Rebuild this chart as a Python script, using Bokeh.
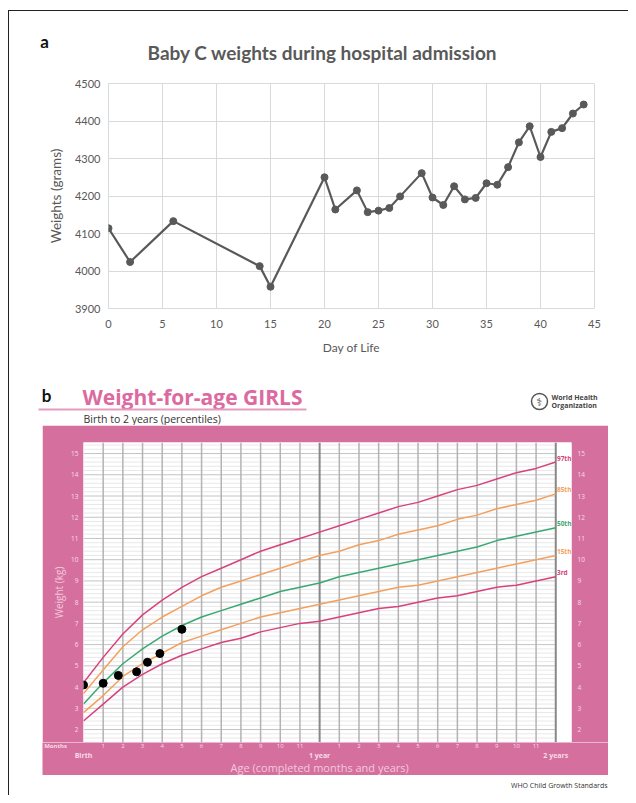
from bokeh.plotting import figure
from bokeh.models import Range1d, FixedTicker, LinearAxis, Spacer, SingleIntervalTicker
from bokeh.layouts import column, row
from bokeh.core.properties import value
from bokeh.embed import file_html
from bokeh.resources import INLINE

# ---------------- data: panel a ----------------
days = [0, 2, 6, 14, 15, 20, 21, 23, 24, 25, 26, 27, 29, 30, 31, 32, 33, 34,
        35, 36, 37, 38, 39, 40, 41, 42, 43, 44]
weights_g = [4114, 4024, 4133, 4013, 3958, 4250, 4164, 4215, 4157, 4161, 4168,
             4199, 4261, 4196, 4176, 4226, 4191, 4195, 4234, 4230, 4277, 4343,
             4386, 4304, 4371, 4381, 4420, 4444]

# ---------------- data: panel b (WHO weight-for-age girls) ----------------
months = list(range(25))
p97 = [4.2, 5.4, 6.5, 7.4, 8.1, 8.7, 9.2, 9.6, 10.0, 10.4, 10.7, 11.0, 11.3,
       11.6, 11.9, 12.2, 12.5, 12.7, 13.0, 13.3, 13.5, 13.8, 14.1, 14.3, 14.6]
p85 = [3.7, 4.8, 5.9, 6.7, 7.3, 7.8, 8.3, 8.7, 9.0, 9.3, 9.6, 9.9, 10.2,
       10.4, 10.7, 10.9, 11.2, 11.4, 11.6, 11.9, 12.1, 12.4, 12.6, 12.8, 13.1]
p50 = [3.2, 4.2, 5.1, 5.8, 6.4, 6.9, 7.3, 7.6, 7.9, 8.2, 8.5, 8.7, 8.9,
       9.2, 9.4, 9.6, 9.8, 10.0, 10.2, 10.4, 10.6, 10.9, 11.1, 11.3, 11.5]
p15 = [2.8, 3.6, 4.5, 5.1, 5.6, 6.1, 6.4, 6.7, 7.0, 7.3, 7.5, 7.7, 7.9,
       8.1, 8.3, 8.5, 8.7, 8.8, 9.0, 9.2, 9.4, 9.6, 9.8, 10.0, 10.2]
p3 = [2.4, 3.2, 4.0, 4.6, 5.1, 5.5, 5.8, 6.1, 6.3, 6.6, 6.8, 7.0, 7.1,
      7.3, 7.5, 7.7, 7.8, 8.0, 8.2, 8.3, 8.5, 8.7, 8.8, 9.0, 9.2]
percentile_names = ["97th", "85th", "50th", "15th", "3rd"]
baby_age_months = [0.0, 1.0, 1.77, 2.7, 3.25, 3.88, 5.0]
baby_weight_kg = [4.1, 4.18, 4.55, 4.72, 5.17, 5.58, 6.72]
weight_ticks = list(range(2, 16))
month_ticks = [1, 2, 3, 4, 5, 6, 7, 8, 9, 10, 11, 13, 14, 15, 16, 17, 18, 19, 20, 21, 22, 23]
year_ticks = [0, 12, 24]
year_labels = ["Birth", "1 year", "2 years"]

GRAY = "#595959"
PINK = "#d5709e"
PINK_TXT = "#dc6aa0"
LIGHT = "#f8dbe8"
RED_C = "#d8417c"
ORA_C = "#f3a05e"
GRN_C = "#3aa872"
pct_colors = [RED_C, ORA_C, GRN_C, ORA_C, RED_C]


def blank(w, h, x_range, y0, y1, fill="white"):
    f = figure(width=w, height=h, x_range=x_range, y_range=Range1d(y1, y0),
               output_backend="svg", toolbar_location=None,
               x_axis_type=None, y_axis_type=None, min_border=0,
               min_border_left=0, min_border_right=0, min_border_top=0, min_border_bottom=0)
    f.outline_line_color = None
    f.grid.visible = False
    f.background_fill_color = fill
    f.border_fill_color = fill
    return f


# ---------------- header a (page coordinates) ----------------
ha = blank(619, 64, Range1d(9, 628), 11, 75)
ha.text(x=[44], y=[41], text=["a"], text_font=value("Lato"), text_font_style="bold",
        text_font_size="17px", text_color="#111111", text_align="center", text_baseline="middle")
ha.text(x=[322], y=[52], text=["Baby C weights during hospital admission"], text_font=value("Lato"),
        text_font_style="bold", text_font_size="19px", text_color=GRAY,
        text_align="center", text_baseline="middle")

# ---------------- panel a ----------------
pa = figure(width=619, height=305, x_range=Range1d(0, 45), y_range=Range1d(3900, 4500),
            output_backend="svg", toolbar_location=None,
            min_border_left=99, min_border_right=34, min_border_top=8, min_border_bottom=72)
pa.outline_line_color = "#d9d9d9"
pa.xaxis.ticker = SingleIntervalTicker(interval=5)
pa.yaxis.ticker = SingleIntervalTicker(interval=100)
for ax in (pa.xaxis, pa.yaxis):
    ax.axis_line_color = None
    ax.major_tick_line_color = None
    ax.minor_tick_line_color = None
    ax.major_tick_out = 0
    ax.minor_tick_out = 0
    ax.major_label_text_color = GRAY
    ax.major_label_text_font = "Lato"
    ax.major_label_text_font_size = "11px"
    ax.axis_label_text_color = GRAY
    ax.axis_label_text_font = "Lato"
    ax.axis_label_text_font_size = "12px"
    ax.axis_label_text_font_style = "normal"
pa.xaxis.axis_label = "Day of Life"
pa.yaxis.axis_label = "Weights (grams)"
pa.yaxis.axis_label_text_font_size = "13.5px"
pa.xaxis.major_label_standoff = 11
pa.xaxis.axis_label_standoff = 9
pa.yaxis.major_label_standoff = 8
pa.yaxis.axis_label_standoff = 8
pa.grid.grid_line_color = "#d9d9d9"
pa.grid.grid_line_width = 1
pa.line(days, weights_g, line_color=GRAY, line_width=2.2)
pa.scatter(days, weights_g, size=7, fill_color=GRAY, line_color=GRAY)

# ---------------- header b (page coordinates) ----------------
hb = blank(619, 45, Range1d(9, 628), 380, 425)
hb.text(x=[46], y=[395], text=["b"], text_font=value("Lato"), text_font_style="bold",
        text_font_size="17px", text_color="#111111", text_align="center", text_baseline="middle")
hb.text(x=[82], y=[396], text=["Weight-for-age GIRLS"], text_font=value("Open Sans"),
        text_font_style="bold", text_font_size="21px", text_color=PINK_TXT,
        text_align="left", text_baseline="middle")
hb.segment(x0=[38], y0=[409], x1=[306], y1=[409], line_color="#e59cbf", line_width=2)
hb.text(x=[83], y=[418], text=["Birth to 2 years (percentiles)"], text_font=value("Open Sans"),
        text_font_size="10.5px", text_color="#333333", text_align="left", text_baseline="middle")
hb.circle(x=[539], y=[401], radius=8, fill_color=None, line_color="#555555", line_width=1.5)
hb.text(x=[539], y=[401.5], text=["\u2695"], text_font=value("DejaVu Sans"), text_font_size="11px",
        text_color="#444444", text_align="center", text_baseline="middle")
hb.text(x=[551, 551], y=[397, 405], text=["World Health", "Organization"], text_font=value("Open Sans"),
        text_font_style="bold", text_font_size="7px", text_color="#444444",
        text_align="left", text_baseline="middle")

# ---------------- panel b : chart ----------------
B_W, B_LEFT, B_RIGHT = 566, 41, 37
X_END = 24.8
pb = figure(width=B_W, height=317, x_range=Range1d(0, X_END), y_range=Range1d(1.39, 15.52),
            output_backend="svg", toolbar_location=None, x_axis_type=None,
            min_border_left=B_LEFT, min_border_right=B_RIGHT, min_border_top=17, min_border_bottom=0)
pb.border_fill_color = PINK
pb.background_fill_color = "white"
pb.outline_line_color = None
pb.grid.visible = False

minor_kg = [round(1.4 + 0.2 * i, 1) for i in range(71)]
minor_kg = [v for v in minor_kg if abs(v - round(v)) > 1e-6]
pb.segment(x0=[0] * len(minor_kg), y0=minor_kg, x1=[24] * len(minor_kg), y1=minor_kg,
           line_color="#e2e2e2", line_width=0.8)
pb.segment(x0=[0] * len(weight_ticks), y0=weight_ticks, x1=[24] * len(weight_ticks), y1=weight_ticks,
           line_color="#c4c4c4", line_width=1)
vm = [m for m in range(1, 24) if m != 12]
pb.segment(x0=vm, y0=[1.39] * len(vm), x1=vm, y1=[15.52] * len(vm), line_color="#b3b3b3", line_width=1.5)
pb.segment(x0=[12, 24], y0=[1.39, 1.39], x1=[12, 24], y1=[15.52, 15.52], line_color="#888888", line_width=2)

for series, col in zip([p97, p85, p50, p15, p3], pct_colors):
    pb.line(months, series, line_color=col, line_width=1.5)
ends = [s[-1] for s in (p97, p85, p50, p15, p3)]
pb.text(x=[24.06] * 5, y=ends, text=percentile_names, text_color=pct_colors,
        text_font=value("Open Sans"), text_font_style="bold", text_font_size="6.5px",
        text_align="left", text_baseline="middle", y_offset=-4)
pb.scatter(baby_age_months, baby_weight_kg, size=8, fill_color="black", line_color="black")


def style_axis(ax, size="6.5px", bold=False):
    ax.axis_line_color = None
    ax.major_tick_line_color = None
    ax.minor_tick_line_color = None
    ax.major_tick_out = 0
    ax.minor_tick_out = 0
    ax.major_label_text_color = LIGHT
    ax.major_label_text_font = "Open Sans"
    ax.major_label_text_font_size = size
    ax.major_label_text_font_style = "bold" if bold else "normal"
    ax.axis_label_text_color = "#f3c8dc"
    ax.axis_label_text_font = "Open Sans"
    ax.axis_label_text_font_style = "normal"


ly = pb.yaxis[0]
ly.ticker = FixedTicker(ticks=weight_ticks)
style_axis(ly)
ly.major_label_standoff = 5
ly.axis_label = "Weight (kg)"
ly.axis_label_text_font_size = "10px"
ly.axis_label_standoff = 2

ry = LinearAxis(ticker=FixedTicker(ticks=weight_ticks))
style_axis(ry)
ry.major_label_standoff = 6
pb.add_layout(ry, "right")

# ---------------- panel b : age scale strip (same month scale as the chart) ----------------
px_per_month = (B_W - B_LEFT - B_RIGHT) / X_END
bp = blank(B_W, 33, Range1d(-B_LEFT / px_per_month, X_END + B_RIGHT / px_per_month), 742, 775, fill=PINK)
bp.text(x=month_ticks, y=[745.5] * len(month_ticks), text=[str(m % 12) for m in month_ticks],
        text_font=value("Open Sans"), text_font_size="6px", text_color=LIGHT,
        text_align="center", text_baseline="middle")
bp.text(x=[-1.42], y=[745.5], text=["Months"], text_font=value("Open Sans"), text_font_size="6px",
        text_font_style="bold", text_color=LIGHT, text_align="center", text_baseline="middle")
bp.text(x=year_ticks, y=[755] * 3, text=year_labels, text_font=value("Open Sans"), text_font_size="7px",
        text_font_style="bold", text_color=LIGHT, text_align="center", text_baseline="middle")
bp.text(x=[12.0], y=[767], text=["Age (completed months and years)"], text_font=value("Open Sans"),
        text_font_size="11px", text_color="#f3c8dc", text_align="center", text_baseline="middle")

# ---------------- footer (page coordinates) ----------------
ft = blank(619, 20, Range1d(9, 628), 775, 795)
ft.text(x=[607], y=[785], text=["WHO Child Growth Standards"], text_font=value("Open Sans"),
        text_font_size="7px", text_color="#333333", text_align="right", text_baseline="middle")

layout = column(row(ha), row(pa), row(hb),
                row(Spacer(width=33, height=350), column(row(pb), row(bp))),
                row(ft),
                styles={"border-left": "1px solid #222222", "border-top": "1px solid #222222",
                        "margin-left": "8px", "margin-top": "10px"})

open("out.html", "w").write(file_html(layout, INLINE))
